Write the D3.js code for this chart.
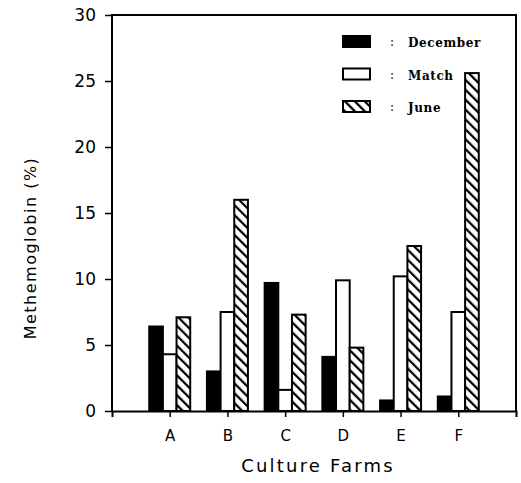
<!DOCTYPE html>
<html>
<head>
  <meta charset="utf-8">
  <title>Methemoglobin by culture farm</title>
  <script src="https://d3js.org/d3.v7.min.js"></script>
  <style>
    body { margin: 0; background: #fff; }
    svg { display: block; }
  </style>
</head>
<body>
  <svg id="chart"></svg>
  <script>
    // values
    const farms = ["A", "B", "C", "D", "E", "F"];
    const seasons = ["December", "Match", "June"];
    const december = [6.4, 3.0, 9.7, 4.1, 0.8, 1.1];
    const match = [4.3, 7.5, 1.6, 9.9, 10.2, 7.5];
    const june = [7.1, 16.0, 7.3, 4.8, 12.5, 25.6];
    const yTicks = [0, 5, 10, 15, 20, 25, 30];

    const width = 521, height = 483;
    const margin = { top: 15, right: 5, bottom: 72, left: 112 };
    const chartWidth = width - margin.left - margin.right;
    const chartHeight = height - margin.top - margin.bottom;

    const svg = d3.select("#chart")
      .attr("width", width)
      .attr("height", height);

    const defs = svg.append("defs");
    const pat = defs.append("pattern")
      .attr("id", "hatch")
      .attr("patternUnits", "userSpaceOnUse")
      .attr("width", 7)
      .attr("height", 7)
      .attr("patternTransform", "rotate(-45)");
    pat.append("rect").attr("width", 7).attr("height", 7).attr("fill", "#fff");
    pat.append("line")
      .attr("x1", 0).attr("y1", 0).attr("x2", 0).attr("y2", 7)
      .attr("stroke", "#000").attr("stroke-width", 4.5);

    const fills = { December: "#000", Match: "#fff", June: "url(#hatch)" };

    const g = svg.append("g")
      .attr("transform", `translate(${margin.left}, ${margin.top})`);

    const xScale = d3.scalePoint()
      .domain(farms)
      .range([0, chartWidth])
      .padding(1);

    const xSub = d3.scaleBand()
      .domain(seasons)
      .range([-20.5, 20.5]);

    const yScale = d3.scaleLinear()
      .domain([0, 30])
      .range([chartHeight, 0]);

    const rows = [];
    farms.forEach((f, i) => {
      rows.push({ farm: f, season: "December", value: december[i] });
      rows.push({ farm: f, season: "Match", value: match[i] });
      rows.push({ farm: f, season: "June", value: june[i] });
    });

    // bars
    g.selectAll(".bar")
      .data(rows)
      .join("rect")
      .attr("class", "bar")
      .attr("x", d => xScale(d.farm) + xSub(d.season))
      .attr("width", xSub.bandwidth())
      .attr("y", d => yScale(d.value))
      .attr("height", d => chartHeight - yScale(d.value))
      .attr("fill", d => fills[d.season])
      .attr("stroke", "#000")
      .attr("stroke-width", 2);

    // frame
    g.append("path")
      .attr("d", `M0,${chartHeight}V0H${chartWidth}V${chartHeight}`)
      .attr("fill", "none")
      .attr("stroke", "#000")
      .attr("stroke-width", 2);

    // x axis
    const xAxis = g.append("g")
      .attr("transform", `translate(0, ${chartHeight})`)
      .call(d3.axisBottom(xScale).tickSize(6).tickPadding(13));
    xAxis.select(".domain").attr("stroke-width", 2);
    xAxis.selectAll(".tick line").attr("stroke-width", 1.5);
    xAxis.selectAll("text")
      .attr("font-family", "DejaVu Sans")
      .attr("font-size", 15)
      .attr("fill", "#000");

    // y axis
    const yAxis = g.append("g")
      .call(d3.axisLeft(yScale).tickValues(yTicks).tickSize(7).tickPadding(9));
    yAxis.select(".domain").remove();
    yAxis.selectAll(".tick line").attr("stroke-width", 1.5);
    yAxis.selectAll("text")
      .attr("font-family", "DejaVu Sans")
      .attr("font-size", 17)
      .attr("fill", "#000");

    // axis titles
    svg.append("text")
      .attr("text-anchor", "middle")
      .attr("transform", `translate(${margin.left + chartWidth / 2 + 4}, 472)`)
      .attr("font-family", "DejaVu Sans")
      .attr("font-size", 18)
      .attr("letter-spacing", 2.2)
      .text("Culture Farms");

    svg.append("text")
      .attr("text-anchor", "middle")
      .attr("transform", `translate(36, ${margin.top + 233}) rotate(-90)`)
      .attr("font-family", "DejaVu Sans")
      .attr("font-size", 16)
      .attr("letter-spacing", 1.5)
      .text("Methemoglobin (%)");

    // legend
    const legend = svg.append("g")
      .attr("transform", "translate(343, 36)");
    const item = legend.selectAll(".item")
      .data(seasons)
      .join("g")
      .attr("class", "item")
      .attr("transform", (d, i) => `translate(0, ${i * 32.5})`);
    item.append("rect")
      .attr("width", 27)
      .attr("height", 11)
      .attr("fill", d => fills[d])
      .attr("stroke", "#000")
      .attr("stroke-width", 2);
    item.append("text")
      .attr("x", 47)
      .attr("y", 10)
      .attr("font-family", "DejaVu Serif")
      .attr("font-size", 12)
      .text(":");
    item.append("text")
      .attr("x", 65)
      .attr("y", 11)
      .attr("font-family", "DejaVu Serif")
      .attr("font-weight", "bold")
      .attr("font-size", 12)
      .attr("letter-spacing", 0.6)
      .text(d => d);
  </script>
</body>
</html>
